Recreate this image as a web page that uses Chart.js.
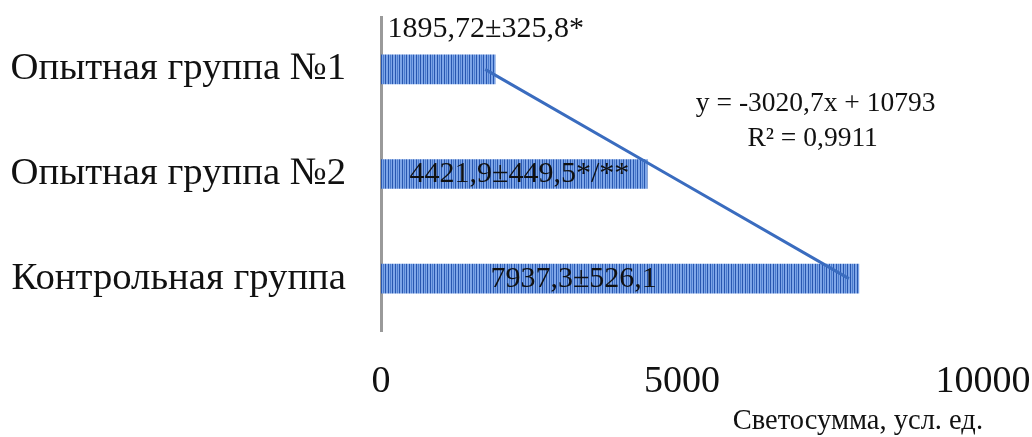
<!DOCTYPE html>
<html>
<head>
<meta charset="utf-8">
<script src="https://cdn.jsdelivr.net/npm/chart.js@4"></script>
<style>
  html, body { margin: 0; padding: 0; background: #fff; }
  #wrap { width: 1032px; height: 437px; }
</style>
</head>
<body>
<div id="wrap"><canvas id="results_plot"></canvas></div>
<script>
'use strict';

// data
const categories = ['Опытная группа №1', 'Опытная группа №2', 'Контрольная группа'];
const values = [1895.72, 4421.9, 7937.3];
const valueLabels = ['1895,72±325,8*', '4421,9±449,5*/**', '7937,3±526,1'];
// linear trend as drawn (y = -3020,7x + 10793)
const trendValues = [1731, 4751, 7772];
const equationLines = ['y = -3020,7x + 10793', 'R² = 0,9911'];
const xTicks = [0, 5000, 10000];
const xTitle = 'Светосумма, усл. ед.';

const SERIF = '"Liberation Serif", "Times New Roman", serif';

// striped fill like the original bars
function stripePattern() {
    const pc = document.createElement('canvas');
    pc.width = 7;
    pc.height = 4;
    const c = pc.getContext('2d');
    c.fillStyle = '#7ea6e8';
    c.fillRect(0, 0, 7, 4);
    c.fillStyle = '#2857b0';
    c.fillRect(0, 0, 1, 4);
    c.fillRect(3, 0, 1, 4);
    c.fillStyle = '#4a7bcd';
    c.fillRect(5, 0, 1, 4);
    return c.createPattern(pc, 'repeat');
}

// text annotations: bar labels and the trend equation
const textPlugin = {
    id: 'texts',
    afterDatasetsDraw(chart, args, opts) {
        const ctx = chart.ctx;
        const xs = chart.scales.x;
        const ys = chart.scales.y;
        ctx.save();
        ctx.fillStyle = '#111';
        ctx.textAlign = 'center';
        ctx.textBaseline = 'middle';
        ctx.font = '30px ' + SERIF;
        opts.barLabels.forEach((p, i) => {
            ctx.fillText(valueLabels[i], xs.getPixelForValue(p.x), ys.getPixelForValue(p.y));
        });
        ctx.font = '27.5px ' + SERIF;
        opts.equation.forEach((p, i) => {
            ctx.fillText(equationLines[i], xs.getPixelForValue(p.x), ys.getPixelForValue(p.y));
        });
        ctx.restore();
    }
};

const config = {
    type: 'bar',
    data: {
        labels: categories,
        datasets: [
            {
                type: 'bar',
                data: values,
                backgroundColor: stripePattern(),
                borderWidth: 0,
                barThickness: 29,
                order: 2
            },
            {
                type: 'line',
                data: trendValues,
                borderColor: '#3a6cbf',
                borderWidth: 3,
                pointRadius: 0,
                fill: false,
                order: 1
            }
        ]
    },
    plugins: [textPlugin],
    options: {
        indexAxis: 'y',
        responsive: true,
        maintainAspectRatio: false,
        animation: false,
        layout: {
            padding: { left: 10, right: 0, top: 17, bottom: 0 }
        },
        plugins: {
            legend: { display: false },
            tooltip: { enabled: false },
            texts: {
                barLabels: [
                    { x: 1740, y: -0.38 },
                    { x: 2300, y: 1 },
                    { x: 3200, y: 2 }
                ],
                equation: [
                    { x: 7220, y: 0.33 },
                    { x: 7170, y: 0.66 }
                ]
            }
        },
        scales: {
            x: {
                min: 0,
                max: 10000,
                afterBuildTicks: (axis) => {
                    axis.ticks = xTicks.map(v => ({ value: v }));
                },
                afterFit: (scale) => {
                    scale.height = 106;
                    scale.paddingLeft = 0;
                    scale.paddingRight = 49;
                },
                grid: { display: false, drawTicks: false },
                border: { display: false },
                ticks: {
                    color: '#111',
                    padding: 28,
                    maxRotation: 0,
                    callback: (v) => String(v),
                    font: { family: SERIF, size: 38 }
                },
                title: {
                    display: true,
                    text: xTitle,
                    align: 'end',
                    color: '#111',
                    padding: { top: 1, bottom: -2 },
                    font: { family: SERIF, size: 28.5 }
                }
            },
            y: {
                afterFit: (scale) => {
                    scale.paddingTop = 0;
                    scale.paddingBottom = 0;
                    scale.width = 371;
                },
                grid: { display: false, drawTicks: false },
                border: { display: true, color: '#9a9a9a', width: 3 },
                ticks: {
                    color: '#111',
                    padding: 35,
                    font: { family: SERIF, size: 38.7 }
                }
            }
        }
    }
};

new Chart(document.getElementById('results_plot'), config);
</script>
</body>
</html>
